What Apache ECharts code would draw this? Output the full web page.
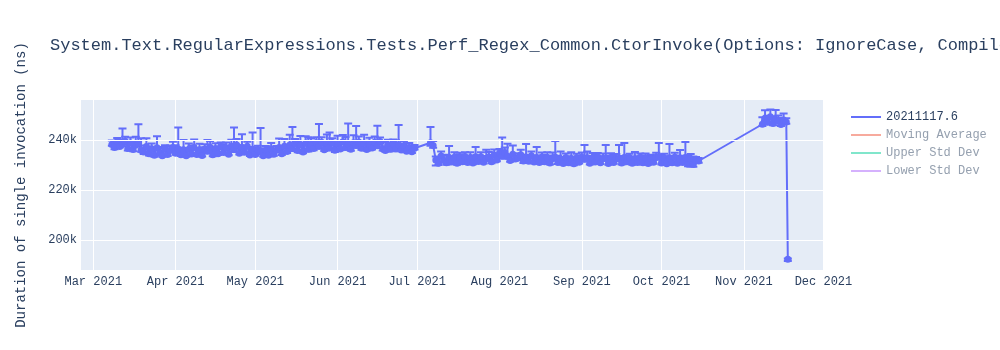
<!DOCTYPE html>
<html>
<head>
<meta charset="utf-8">
<script src="https://cdn.jsdelivr.net/npm/echarts@6/dist/echarts.min.js"></script>
<style>html,body{margin:0;padding:0;background:#fff}#c{width:1000px;height:350px}</style>
</head>
<body>
<div id="c"></div>
<script>
const chartTitle = 'System.Text.RegularExpressions.Tests.Perf_Regex_Common.CtorInvoke(Options: IgnoreCase, Compiled)';
const yAxisTitle = 'Duration of single invocation (ns)';
const seriesName = '20211117.6';
const extraLegend = ['Moving Average', 'Upper Std Dev', 'Lower Std Dev'];
const yTickValues = [200000, 220000, 240000];
const monthNames = ['Jan','Feb','Mar','Apr','May','Jun','Jul','Aug','Sep','Oct','Nov','Dec'];

const dates = [
'2021-03-08','2021-03-09','2021-03-10','2021-03-11','2021-03-12','2021-03-13','2021-03-14','2021-03-15','2021-03-16','2021-03-17',
'2021-03-18','2021-03-19','2021-03-20','2021-03-21','2021-03-22','2021-03-23','2021-03-24','2021-03-25','2021-03-26','2021-03-27',
'2021-03-28','2021-03-29','2021-03-30','2021-03-31',
'2021-04-01','2021-04-02','2021-04-03','2021-04-04','2021-04-05','2021-04-06','2021-04-07','2021-04-08','2021-04-09','2021-04-10',
'2021-04-11','2021-04-12','2021-04-13','2021-04-14','2021-04-15','2021-04-16','2021-04-17','2021-04-18','2021-04-19','2021-04-20',
'2021-04-21','2021-04-22','2021-04-23','2021-04-24','2021-04-25','2021-04-26','2021-04-27','2021-04-28','2021-04-29','2021-04-30',
'2021-05-01','2021-05-02','2021-05-03','2021-05-04','2021-05-05','2021-05-06','2021-05-07','2021-05-08','2021-05-09','2021-05-10',
'2021-05-11','2021-05-12','2021-05-13','2021-05-14','2021-05-15','2021-05-16','2021-05-17','2021-05-18','2021-05-19','2021-05-20',
'2021-05-21','2021-05-22','2021-05-23','2021-05-24','2021-05-25','2021-05-26','2021-05-27','2021-05-28','2021-05-29','2021-05-30','2021-05-31',
'2021-06-01','2021-06-02','2021-06-03','2021-06-04','2021-06-05','2021-06-06','2021-06-07','2021-06-08','2021-06-09','2021-06-10',
'2021-06-11','2021-06-12','2021-06-13','2021-06-14','2021-06-15','2021-06-16','2021-06-17','2021-06-18','2021-06-19','2021-06-20',
'2021-06-21','2021-06-22','2021-06-23','2021-06-24','2021-06-25','2021-06-26','2021-06-27','2021-06-28','2021-06-29','2021-06-30',
'2021-07-06','2021-07-07',
'2021-07-08','2021-07-09','2021-07-10','2021-07-11','2021-07-12','2021-07-13','2021-07-14','2021-07-15','2021-07-16','2021-07-17',
'2021-07-18','2021-07-19','2021-07-20','2021-07-21','2021-07-22','2021-07-23','2021-07-24','2021-07-25','2021-07-26','2021-07-27',
'2021-07-28','2021-07-29','2021-07-30','2021-07-31',
'2021-08-01','2021-08-02','2021-08-03','2021-08-04','2021-08-05','2021-08-06','2021-08-07','2021-08-08','2021-08-09','2021-08-10',
'2021-08-11','2021-08-12','2021-08-13','2021-08-14','2021-08-15','2021-08-16','2021-08-17','2021-08-18','2021-08-19','2021-08-20',
'2021-08-21','2021-08-22','2021-08-23','2021-08-24','2021-08-25','2021-08-26','2021-08-27','2021-08-28','2021-08-29','2021-08-30','2021-08-31',
'2021-09-01','2021-09-02','2021-09-03','2021-09-04','2021-09-05','2021-09-06','2021-09-07','2021-09-08','2021-09-09','2021-09-10',
'2021-09-11','2021-09-12','2021-09-13','2021-09-14','2021-09-15','2021-09-16','2021-09-17','2021-09-18','2021-09-19','2021-09-20',
'2021-09-21','2021-09-22','2021-09-23','2021-09-24','2021-09-25','2021-09-26','2021-09-27','2021-09-28','2021-09-29','2021-09-30',
'2021-10-01','2021-10-02','2021-10-03','2021-10-04','2021-10-05','2021-10-06','2021-10-07','2021-10-08','2021-10-09','2021-10-10',
'2021-10-11','2021-10-12','2021-10-13','2021-10-14','2021-10-15',
'2021-11-08','2021-11-09','2021-11-10','2021-11-11','2021-11-12','2021-11-13','2021-11-14','2021-11-15','2021-11-16','2021-11-17',
'2021-11-17 14:00'
];

const values = [
238200,237000,239300,237400,238400,239500,236600,238800,236200,237900,
238700,235900,235200,237400,234500,236500,233900,236900,234700,233700,
236300,234200,235800,236900,
234700,236400,234100,236100,233700,236300,234400,237000,234200,235900,
233800,236400,235500,237100,234100,236500,234500,237400,235000,236900,
234300,237600,236200,238000,234700,237100,235100,237500,234000,236300,
234200,236100,235300,233700,235800,233900,236400,234300,235900,237000,
234500,237500,235400,238000,236600,238500,235800,238100,235200,238800,
236300,238300,236600,238900,237500,239100,236100,238600,236800,239000,235900,
238400,236400,239300,237000,238400,236300,238900,237800,239200,236700,
238700,236200,238300,236800,239100,237700,239400,236500,235800,238000,
236300,238500,236400,238100,236000,237500,235500,237000,235300,236700,
238900,237800,
232000,230700,233600,231800,230900,233000,231200,233100,230700,232800,
231300,233400,231000,233000,230800,233300,231400,233300,231100,232500,
233200,231300,234000,232000,
234800,233500,235000,233400,231800,234300,232400,232800,234100,231600,
233200,231500,233700,231200,232900,231000,233200,231300,232900,230800,
232500,233100,231000,232500,230600,233000,230900,232600,230500,232800,231100,
233100,232300,232900,230700,232700,231200,233200,230900,232600,232600,
230600,233000,231000,232500,232500,230800,233000,231300,232900,230700,
232400,231000,233100,230900,232800,230600,232500,231100,233000,233200,
230800,232800,230500,232800,230900,233100,230700,232400,231000,233000,
230300,232500,230200,231800,231600,
246300,248700,247100,249300,246600,248200,247500,246200,248000,247200,
192300
];

const errorsPlus = [
1600,2400,1500,2800,6200,1800,3000,2200,3100,3400,
7600,4800,2600,3300,2800,2100,3200,4600,2500,2900,
1600,3200,2000,2400,
3200,8600,2800,3900,3100,2300,3400,3200,2600,2600,
3300,1900,4500,2500,3200,2200,2900,1600,3300,2100,
3000,2500,8800,2400,3100,5200,2500,1800,3200,6700,
2900,1600,9500,3000,1800,3200,2400,2300,1700,3600,
3100,2900,2500,4100,8600,1900,3400,3500,2600,2700,
4800,2400,3100,2200,8900,2000,3500,3600,6200,1700,3500,
3300,2800,2700,4200,8200,2600,3000,7800,2200,2900,
3400,3500,2600,2800,2300,8000,1600,2800,3400,2100,
3700,1700,3500,7900,2500,2000,3200,1800,2000,1300,
6300,1800,
1400,2500,1800,2000,3200,4600,2300,2000,3500,2100,
2800,1700,2600,2100,3000,3900,2400,1800,2500,3600,
2000,2700,2200,2300,
1600,7500,2000,5100,2400,3500,2200,1800,2000,2500,
5200,2400,1700,2600,4300,2800,1800,2700,2200,3000,
2500,6500,2700,2900,2600,1600,2500,2500,2800,1700,2600,
1900,5700,2500,3000,2100,2800,1600,2600,2000,5400,
3200,1700,3000,1900,5500,2800,5800,2600,1600,2700,
2800,2500,1500,2800,1800,3000,1600,2700,1900,5600,
3400,1700,3000,5600,2800,1800,3100,3600,2700,6200,
3500,1900,3200,1400,1200,
2800,3200,2600,2900,2900,3800,2300,2600,2600,1500,
300
];

const errorsMinus = [
500,700,600,400,900,500,800,600,700,500,
1000,600,800,500,700,900,600,800,500,400,
700,600,500,800,
600,900,500,700,400,800,600,700,500,600,
400,700,800,500,600,700,500,900,600,500,
400,700,1000,600,500,800,600,700,400,900,
500,600,1100,400,700,500,800,600,500,700,
500,800,600,900,1000,600,700,800,500,700,
900,600,700,500,1000,600,500,800,900,600,700,
800,500,700,900,1000,600,700,900,500,600,
800,500,700,600,500,900,600,700,500,600,
800,500,700,900,500,600,400,600,500,500,
1200,900,
2200,700,600,500,800,900,500,700,600,500,
700,500,600,800,500,900,600,700,500,800,
500,600,700,500,
600,900,700,800,500,700,600,700,500,800,
900,600,700,500,800,600,700,500,800,600,
500,900,600,700,500,600,500,800,600,700,500,
600,900,700,500,800,600,700,500,600,800,
500,700,500,600,800,600,900,500,700,600,
700,500,600,700,800,500,700,600,700,900,
600,700,500,800,600,700,500,800,600,900,
800,700,900,600,700,
700,900,800,1000,700,900,800,600,800,700,
700
];

const mainColor = '#636efa';
const fadedColors = ['#f7aa9d', '#80e6cb', '#d5b1fd'];
const fadedText = '#95a0af';
const textColor = '#2a3f5f';
const mono = '"Liberation Mono", "DejaVu Sans Mono", monospace';

const points = dates.map((d, i) => [d, values[i], errorsPlus[i], errorsMinus[i]]);

const chart = echarts.init(document.getElementById('c'), null, {renderer: 'canvas'});

const option = {
  animation: false,
  backgroundColor: '#ffffff',
  title: {
    text: chartTitle,
    left: 50, top: 37, padding: 0,
    textStyle: {fontFamily: mono, fontSize: 17, fontWeight: 'normal', color: textColor}
  },
  legend: {
    orient: 'vertical',
    left: 846, top: 106,
    itemWidth: 30, itemHeight: 2, itemGap: 6,
    icon: 'rect',
    textStyle: {fontFamily: mono, fontSize: 12, color: textColor},
    data: [
      {name: seriesName, itemStyle: {color: mainColor}},
      {name: extraLegend[0], itemStyle: {color: fadedColors[0]}, textStyle: {color: fadedText}},
      {name: extraLegend[1], itemStyle: {color: fadedColors[1]}, textStyle: {color: fadedText}},
      {name: extraLegend[2], itemStyle: {color: fadedColors[2]}, textStyle: {color: fadedText}}
    ]
  },
  grid: {
    left: 80, right: 176, top: 100, bottom: 80,
    show: true, backgroundColor: '#E5ECF6', borderWidth: 0
  },
  xAxis: {
    type: 'time',
    min: new Date(2021, 1, 24, 0, 0).getTime(),
    max: new Date(2021, 11, 1, 5, 0).getTime(),
    minInterval: 28 * 86400000,
    maxInterval: 32 * 86400000,
    axisLine: {show: false},
    axisTick: {show: false},
    splitLine: {show: true, lineStyle: {color: '#ffffff', width: 1}},
    axisLabel: {
      fontFamily: mono, fontSize: 12, color: textColor, margin: 6,
      hideOverlap: false,
      formatter: function (v) { const d = new Date(v); return monthNames[d.getMonth()] + ' ' + d.getFullYear(); }
    }
  },
  yAxis: {
    type: 'value',
    min: 188000, max: 256000, interval: 4000,
    name: yAxisTitle, nameLocation: 'middle', nameGap: 52, nameRotate: 90,
    nameTextStyle: {fontFamily: mono, fontSize: 14, color: textColor},
    axisLine: {show: false},
    axisTick: {show: false},
    splitLine: {show: false},
    axisLabel: {
      fontFamily: mono, fontSize: 12, color: textColor, margin: 3,
      formatter: function (v) { return yTickValues.indexOf(v) >= 0 ? (v / 1000) + 'k' : ''; }
    }
  },
  series: [
    {
      name: 'grid', type: 'line', data: [], z: 1, silent: true,
      markLine: {
        silent: true, symbol: 'none', animation: false,
        label: {show: false},
        lineStyle: {color: '#ffffff', width: 1, type: 'solid'},
        emphasis: {disabled: true},
        data: yTickValues.map(v => ({yAxis: v}))
      }
    },
    {
      name: seriesName + ' err', type: 'custom', z: 3,
      data: points,
      encode: {x: 0, y: 1},
      renderItem: function (params, api) {
        const x = api.value(0), y = api.value(1), ep = api.value(2), em = api.value(3);
        const top = api.coord([x, y + ep]);
        const bot = api.coord([x, y - em]);
        const w = 4;
        const st = {stroke: mainColor, lineWidth: 2};
        return {
          type: 'group',
          children: [
            {type: 'line', shape: {x1: top[0], y1: top[1], x2: bot[0], y2: bot[1]}, style: st},
            {type: 'line', shape: {x1: top[0] - w, y1: top[1], x2: top[0] + w, y2: top[1]}, style: st},
            {type: 'line', shape: {x1: bot[0] - w, y1: bot[1], x2: bot[0] + w, y2: bot[1]}, style: st}
          ]
        };
      }
    },
    {
      name: seriesName, type: 'line', z: 4,
      data: points.map(p => [p[0], p[1]]),
      color: mainColor,
      lineStyle: {color: mainColor, width: 2},
      itemStyle: {color: mainColor},
      symbol: 'circle', symbolSize: 7, showSymbol: true, showAllSymbol: true
    },
    {name: extraLegend[0], type: 'line', data: [], color: fadedColors[0]},
    {name: extraLegend[1], type: 'line', data: [], color: fadedColors[1]},
    {name: extraLegend[2], type: 'line', data: [], color: fadedColors[2]}
  ]
};

chart.setOption(option);
</script>
</body>
</html>
